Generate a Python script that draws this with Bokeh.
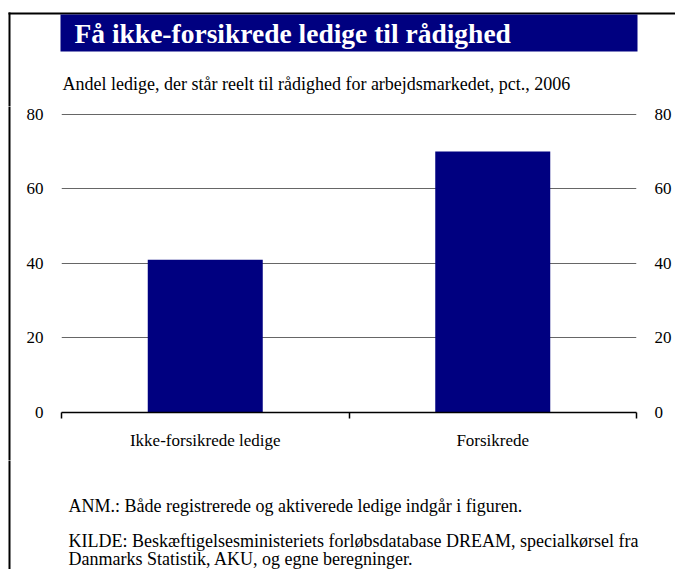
from bokeh.plotting import figure
from bokeh.layouts import column, row
from bokeh.models import (ColumnDataSource, LinearAxis, FixedTicker, Range1d,
                          Label, BoxAnnotation)
from bokeh.embed import file_html
from bokeh.resources import INLINE

categories = ["Ikke-forsikrede ledige", "Forsikrede"]
values = [41, 70]
yticks = [0, 20, 40, 60, 80]

title_text = "Få ikke-forsikrede ledige til rådighed"
subtitle_text = "Andel ledige, der står reelt til rådighed for arbejdsmarkedet, pct., 2006"
note_text = "ANM.: Både registrerede og aktiverede ledige indgår i figuren."
source_line1 = "KILDE: Beskæftigelsesministeriets forløbsdatabase DREAM, specialkørsel fra"
source_line2 = "Danmarks Statistik, AKU, og egne beregninger."

FONT = "Liberation Serif"
TXT = "17px"
NOTE = "18px"
NAVY = "#000080"
W, H = 675, 569
HEAD_H, CHART_H = 106, 354
FOOT_H = H - HEAD_H - CHART_H
STRIP_W = 12


def canvas_fig(w, h):
    f = figure(width=w, height=h, output_backend="svg", toolbar_location=None,
               x_range=Range1d(0, w), y_range=Range1d(h, 0), min_border=0,
               x_axis_location=None, y_axis_location=None)
    f.outline_line_color = None
    f.grid.visible = False
    f.background_fill_color = "white"
    f.border_fill_color = "white"
    f.frame_align = False
    return f


def box(f, l, r, t, b, color):
    f.add_layout(BoxAnnotation(left=l, right=r, top=t, bottom=b, fill_color=color,
                               fill_alpha=1, line_color=None))


def label(f, x, y, text, size=NOTE, color="black", style="normal"):
    f.add_layout(Label(x=x, y=y, text=text, text_font=FONT, text_font_size=size,
                       text_color=color, text_font_style=style,
                       text_baseline="middle", text_align="left"))


# ---- header ----
head = canvas_fig(W, HEAD_H)
box(head, 8, W + 5, 12, 14, "black")
box(head, 8, 10, 12, HEAD_H + 10, "black")
box(head, 60, 637, 14, 51, NAVY)
label(head, 74, 33, title_text, size="27.5px", color="white", style="bold")
label(head, 62, 83, subtitle_text)

# ---- left strip ----
strip = canvas_fig(STRIP_W, CHART_H)
box(strip, 8, 10, -10, CHART_H + 10, "black")

# ---- chart ----
CW = W - STRIP_W
FRAME_L = 61 - STRIP_W
FRAME_W = 575
YMAX = 81
FRAME_H = 302
FRAME_TOP = 412 - FRAME_H - HEAD_H
centers = [i + 0.5 for i in range(len(categories))]
src = ColumnDataSource(dict(x=centers, top=values))

p = figure(width=CW, height=CHART_H, output_backend="svg", toolbar_location=None,
           x_range=Range1d(0, len(categories)), y_range=Range1d(0, YMAX),
           min_border_left=FRAME_L, min_border_right=CW - FRAME_L - FRAME_W,
           min_border_top=FRAME_TOP, min_border_bottom=CHART_H - FRAME_TOP - FRAME_H,
           y_axis_location=None, x_axis_location=None)
p.frame_align = False
p.outline_line_color = None
p.background_fill_color = "white"
p.border_fill_color = "white"

p.vbar(x="x", top="top", width=0.4, bottom=0, source=src,
       fill_color=NAVY, line_color=None)

xax = LinearAxis(ticker=FixedTicker(ticks=centers,
                                    minor_ticks=list(range(len(categories) + 1))))
xax.major_label_overrides = {c: name for c, name in zip(centers, categories)}
xax.major_tick_out = 0
xax.major_tick_in = 0
xax.minor_tick_out = 6
xax.minor_tick_in = 0
xax.minor_tick_line_color = "black"
xax.minor_tick_line_width = 1.5
xax.axis_line_color = "black"
xax.axis_line_width = 1.5
xax.major_label_standoff = 12
xax.major_label_text_font = FONT
xax.major_label_text_font_size = TXT
xax.major_label_text_color = "black"
p.add_layout(xax, "below")

for side in ("left", "right"):
    ax = LinearAxis(ticker=FixedTicker(ticks=yticks))
    ax.axis_line_color = None
    ax.major_tick_line_color = None
    ax.minor_tick_line_color = None
    ax.major_label_standoff = 12
    ax.major_label_text_font = FONT
    ax.major_label_text_font_size = TXT
    ax.major_label_text_color = "black"
    p.add_layout(ax, side)

p.xgrid.visible = False
p.ygrid.ticker = FixedTicker(ticks=yticks[1:])
p.ygrid.grid_line_color = "#666666"
p.ygrid.grid_line_width = 1.2

# ---- footer ----
foot = canvas_fig(W, FOOT_H)
box(foot, 8, 10, -10, FOOT_H + 10, "black")
label(foot, 68, 505 - HEAD_H - CHART_H, note_text)
label(foot, 68, 540 - HEAD_H - CHART_H, source_line1)
label(foot, 68, 558 - HEAD_H - CHART_H, source_line2)

layout = column(head, row(strip, p), foot)
open("out.html", "w").write(file_html(layout, INLINE))
